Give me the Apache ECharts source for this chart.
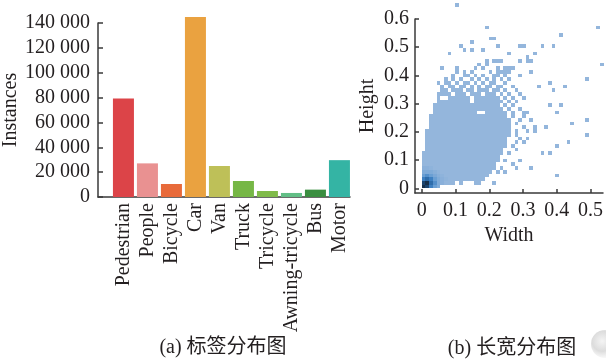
<!DOCTYPE html>
<html><head><meta charset="utf-8">
<script src="https://cdn.jsdelivr.net/npm/echarts@6/dist/echarts.min.js"></script>
<style>html,body{margin:0;padding:0;background:#fff}#c{width:606px;height:360px}</style>
</head><body><div id="c"></div>
<script>
// ---------- (a) label distribution ----------
const categories = ['Pedestrian','People','Bicycle','Car','Van','Truck','Tricycle','Awning-tricycle','Bus','Motor'];
const instances = [79337, 27059, 10480, 144867, 24956, 12875, 4812, 3246, 5926, 29647];
const barColors = ['#dc4448','#e99191','#e86a3a','#eaa240','#bec058','#76b746','#80bb4a','#62be86','#3a8e40','#34b4a4'];

// ---------- (b) width/height 2D histogram (bin indices) ----------
const XBIN = 0.011, YBIN = 0.0131;
// solid region: row j covers bins blobStart[j]..blobEnd[j]
const blobStart = [0,0,0,0,0,0,0,0,0,0, 1,1,1,1,1,1, 2,2,2,2, 3,3,3];
const blobEnd   = [4,8,16,17,18,19,19,20,20,21, 21,22,22,22,23,23, 23,23,23,22, 22,21,20];
const blobHoles = [[15,20],[16,20]];
// sparse / partly filled bins: [row j, [bins i]]
const sparseRows = [
  [1,[10,14,15,19]], [3,[36]], [4,[20,22]], [5,[21,25,29]], [6,[24]], [7,[22,26]],
  [9,[23,32,34]], [10,[25]], [11,[24,36]], [12,[25,27,39]], [13,[26,28]], [14,[25,44]],
  [15,[25,28,30]], [16,[27,30,33]], [17,[25,40]], [18,[26,29,44]], [19,[24,27]],
  [20,[24,27,28,36]], [21,[23,26]], [22,[22,24,34,37]],
  [23,[4,5,6,7,8,9,10,11,12,14,15,16,17,18,19,20,21,23,25]],
  [24,[4,7,8,9,10,11,12,14,15,16,17,18,19,20,22,24,27]],
  [25,[4,5,6,7,9,10,11,13,14,15,17,18,19,21,23,26]],
  [26,[5,6,8,9,10,12,13,15,16,17,19,20,22,25,35]],
  [27,[5,7,8,10,11,13,15,17,18,20,21,24,31,38]],
  [28,[4,6,7,9,11,12,14,16,18,19,22,34]],
  [29,[6,8,10,13,15,17,19,21,23,44]],
  [30,[8,11,12,14,16,19,20,22,26]],
  [31,[9,11,13,18,20,21,22,23,29]],
  [32,[5,9,14,16,20,22,23,24]],
  [33,[15,17,48]], [34,[17,19,20,21,26,28,29]], [35,[28]], [36,[7,23,30]],
  [37,[11,13,16]], [38,[10,20,26,27,32,35]], [39,[13]], [40,[18,19]],
  [41,[37]], [43,[17,47]], [49,[9]]
];
// high-count bins near the origin: [i, j, level]
const originCells = [
  [0,0,9],[1,0,8],[0,1,8],[1,1,9],[2,1,6],[1,2,6],[2,0,5],[0,2,5],[2,2,5],
  [3,0,3],[3,1,4],[3,2,3],[0,3,3],[1,3,4],[2,3,3],[4,1,2],[4,2,2],[3,3,2.2],
  [1,4,2],[2,4,2],[0,4,2],[4,0,2],[4,3,1.6],[3,4,1.6],[5,1,1.5],[5,2,1.5],
  [0,5,1.5],[1,5,1.5],[2,5,1.3],[5,3,1.3],[6,2,1.2],[4,4,1.3]
];

const cells = new Map();
const put = (i, j, c) => cells.set(i + ',' + j, [i, j, c]);
blobStart.forEach((s, j) => { for (let i = s; i <= blobEnd[j]; i++) put(i, j, 1); });
blobHoles.forEach(([i, j]) => cells.delete(i + ',' + j));
sparseRows.forEach(([j, list]) => list.forEach(i => put(i, j, 1)));
originCells.forEach(([i, j, c]) => put(i, j, c));
const heatData = [...cells.values()].map(([i, j, c]) => [i * XBIN, j * YBIN, c]);

const FONT = "'Liberation Serif','Times New Roman',serif";
const TXT = '#231f20';
const AX = '#3a3a3a';
const txt = { fontFamily: FONT, fontSize: 20, color: TXT };
const axLine = { show: true, onZero: false, lineStyle: { color: AX, width: 1.5 } };

const chart = echarts.init(document.getElementById('c'), null, { renderer: 'canvas' });
chart.setOption({
  animation: false,
  backgroundColor: '#fff',
  grid: [
    { left: 98, top: 23, width: 252, height: 174 },
    { left: 415, top: 19, right: 0, height: 174 }
  ],
  xAxis: [
    {
      gridIndex: 0, type: 'value', min: -1.06, max: 9.44, splitNumber: 10,
      axisLine: axLine,
      axisTick: { show: false }, splitLine: { show: false },
      axisLabel: Object.assign({}, txt, {
        rotate: 90, margin: 6, showMinLabel: false, showMaxLabel: false,
        formatter: v => {
          const r = Math.round(v);
          return (Math.abs(v - r) < 1e-6 && r >= 0 && r < categories.length) ? categories[r] : '';
        }
      })
    },
    {
      gridIndex: 1, type: 'value', min: -0.02, max: 0.537, splitNumber: 5,
      name: 'Width', nameLocation: 'middle', nameGap: 33, nameTextStyle: txt,
      axisLine: axLine,
      axisTick: { inside: true, length: 4, lineStyle: { color: AX, width: 1.5 } },
      splitLine: { show: false },
      axisLabel: Object.assign({}, txt, { margin: 8, showMinLabel: false, showMaxLabel: false })
    }
  ],
  yAxis: [
    {
      gridIndex: 0, type: 'value', min: 0, max: 140000, interval: 20000,
      name: 'Instances', nameLocation: 'middle', nameGap: 73, nameTextStyle: txt,
      axisLine: axLine,
      axisTick: { show: true, inside: true, length: 5, lineStyle: { color: AX, width: 1.5 } },
      splitLine: { show: false },
      axisLabel: Object.assign({}, txt, {
        margin: 8,
        formatter: v => String(v).replace(/\B(?=(\d{3})+(?!\d))/g, ' ')
      })
    },
    {
      gridIndex: 1, type: 'value', min: -0.0167, max: 0.6, splitNumber: 6,
      name: 'Height', nameLocation: 'middle', nameGap: 37, nameTextStyle: txt,
      axisLine: axLine,
      axisTick: { show: true, inside: true, length: 4, lineStyle: { color: AX, width: 1.5 } },
      splitLine: { show: false },
      axisLabel: Object.assign({}, txt, { margin: 6, showMinLabel: false })
    }
  ],
  visualMap: {
    show: false, type: 'continuous', seriesIndex: 1, dimension: 2, min: 1, max: 9,
    inRange: { color: ['#94b6dc', '#6a9fd3', '#3d80c2', '#1f5a94', '#17304a'] }
  },
  series: [
    {
      type: 'bar', xAxisIndex: 0, yAxisIndex: 0, barWidth: 21, clip: false,
      data: instances.map((v, k) => ({ value: [k, v], itemStyle: { color: barColors[k] } }))
    },
    {
      type: 'custom', xAxisIndex: 1, yAxisIndex: 1, clip: false,
      encode: { x: 0, y: 1 },
      renderItem: (params, api) => {
        const x = api.value(0), y = api.value(1);
        const p0 = api.coord([x, y]);
        const p1 = api.coord([x + XBIN, y + YBIN]);
        const x0 = Math.round(p0[0]), x1 = Math.round(p1[0]);
        const y0 = Math.round(p0[1]), y1 = Math.round(p1[1]);
        return { type: 'rect', shape: { x: x0, y: y1, width: x1 - x0, height: y0 - y1 },
                 style: { fill: api.visual('color') } };
      },
      data: heatData
    }
  ],
  graphic: [
    { type: 'text', x: 223, y: 348, style: { text: '(a) 标签分布图', fill: TXT, align: 'center', verticalAlign: 'middle',
      font: "20px 'Liberation Serif','Noto Sans CJK SC',serif" } },
    { type: 'text', x: 512, y: 349, style: { text: '(b) 长宽分布图', fill: TXT, align: 'center', verticalAlign: 'middle',
      font: "20px 'Liberation Serif','Noto Sans CJK SC',serif" } },
    { type: 'circle', shape: { cx: 605, cy: 344, r: 14 },
      style: { fill: { type: 'radial', x: 0.4, y: 0.4, r: 0.6,
        colorStops: [{ offset: 0, color: '#f4f4f4' }, { offset: 0.6, color: '#dcdcdc' }, { offset: 1, color: 'rgba(230,230,230,0.3)' }] } } }
  ]
});
</script></body></html>
